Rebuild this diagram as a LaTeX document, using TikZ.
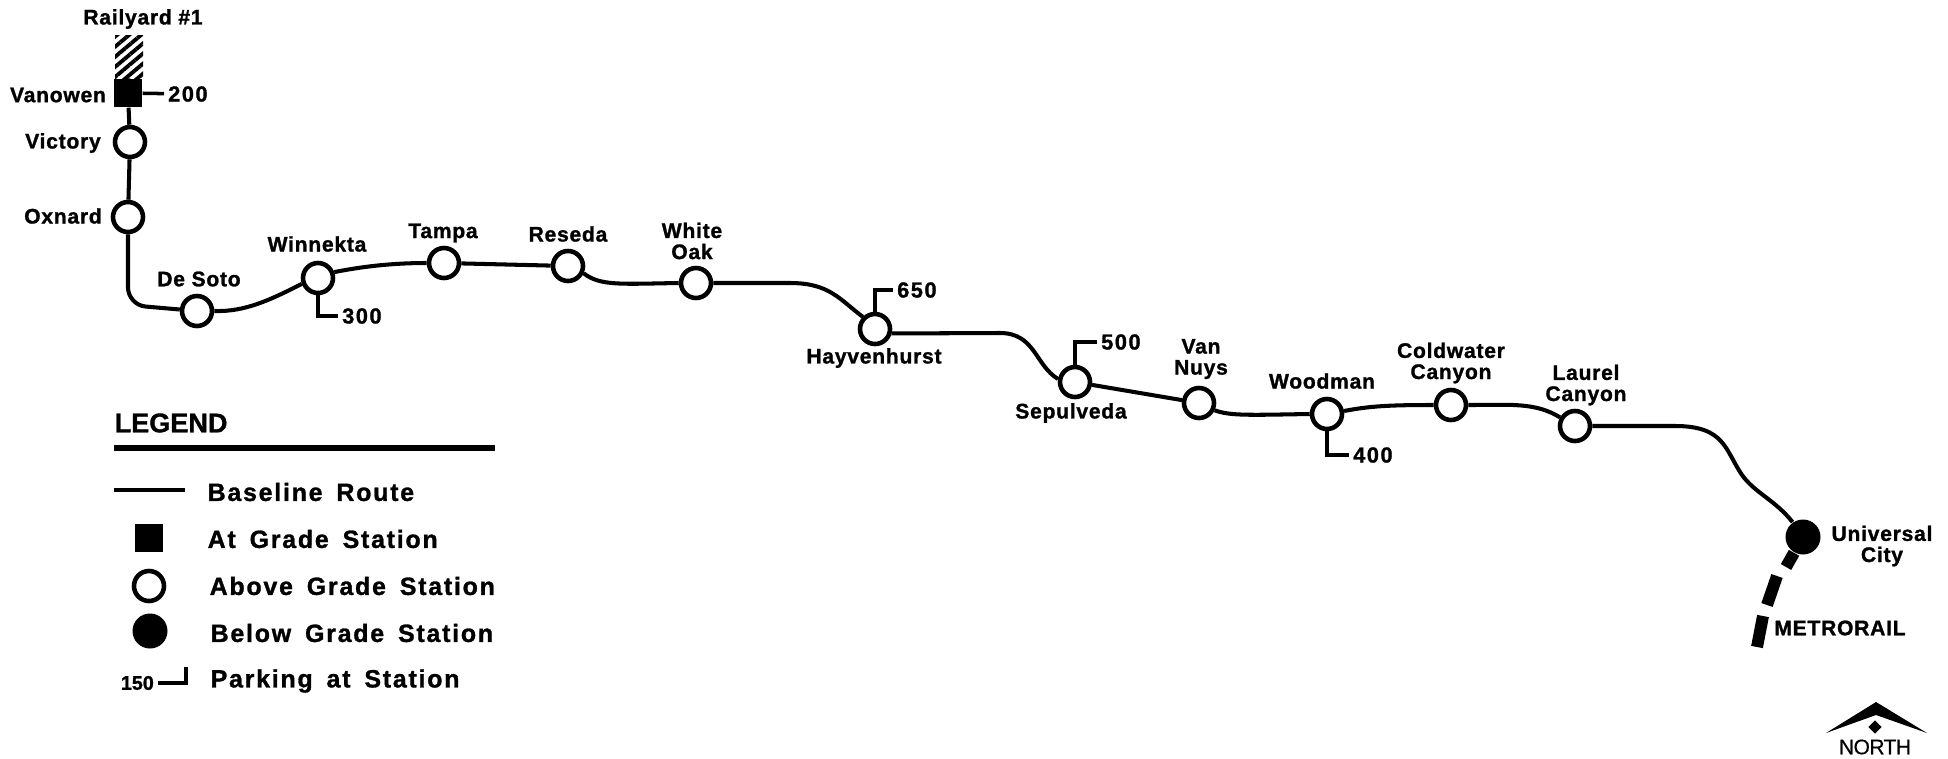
\documentclass[tikz,border=0pt]{standalone}
\usepackage{fontspec}
\setmainfont{Liberation Sans}[BoldFeatures={FakeBold=1.2}]
\newfontfamily\stopfont[LetterSpace=3.5,BoldFeatures={FakeBold=1.2}]{Liberation Sans}
\newfontfamily\keyfont[LetterSpace=7,WordSpace=1.6,BoldFeatures={FakeBold=1.2}]{Liberation Sans}
\newfontfamily\signfont[LetterSpace=-3,FakeBold=0.5]{Liberation Sans}
\usetikzlibrary{patterns.meta,shapes.geometric}

\begin{document}
\begin{tikzpicture}[x=1cm,y=1cm]
\tikzset{
  above grade/.style={circle,draw,line width=1.3pt,fill=white,minimum size=3mm,inner sep=0pt},
  below grade/.style={circle,fill=black,minimum size=3.5mm,inner sep=0pt},
  at grade/.style={rectangle,fill=black,minimum size=2.8mm,inner sep=0pt},
  stoplabel/.style={align=center,inner sep=0pt,font=\stopfont\bfseries\fontsize{6}{6}\selectfont},
  countlabel/.style={anchor=west,inner sep=1pt,font=\keyfont\bfseries\fontsize{6.2}{7}\selectfont},
  keylabel/.style={anchor=west,inner sep=0pt,font=\keyfont\bfseries\fontsize{7.1}{8}\selectfont},
  route/.style={line width=1.15pt},
  leader/.style={line width=1pt},
  metro/.style={line width=3.4pt}
}
\useasboundingbox (0,0) rectangle (19.48,-7.59);
% stations
\node[at grade] (n_Vanowen) at (1.28,-0.93) {};
\node[above grade] (n_Victory) at (1.30,-1.42) {};
\node[above grade] (n_Oxnard) at (1.28,-2.17) {};
\node[above grade] (n_DeSoto) at (1.97,-3.11) {};
\node[above grade] (n_Winnekta) at (3.18,-2.78) {};
\node[above grade] (n_Tampa) at (4.44,-2.63) {};
\node[above grade] (n_Reseda) at (5.68,-2.66) {};
\node[above grade] (n_WhiteOak) at (6.96,-2.83) {};
\node[above grade] (n_Hayvenhurst) at (8.75,-3.29) {};
\node[above grade] (n_Sepulveda) at (10.75,-3.82) {};
\node[above grade] (n_VanNuys) at (11.99,-4.03) {};
\node[above grade] (n_Woodman) at (13.27,-4.14) {};
\node[above grade] (n_Coldwater) at (14.51,-4.05) {};
\node[above grade] (n_Laurel) at (15.75,-4.26) {};
\node[below grade] (n_Universal) at (18.03,-5.37) {};
\node[rectangle,pattern={Lines[angle=40,distance=2.2pt,line width=1.1pt]},minimum width=2.8mm,minimum height=4.5mm,inner sep=0pt] (n_Railyard) at (1.29,-0.58) {};
% station names
\node[stoplabel] (l_Railyard) at (1.43,-0.19) {Railyard \#1};
\node[stoplabel] (l_Vanowen) at (0.58,-0.95) {Vanowen};
\node[stoplabel] (l_Victory) at (0.63,-1.43) {Victory};
\node[stoplabel] (l_Oxnard) at (0.63,-2.16) {Oxnard};
\node[stoplabel] (l_DeSoto) at (1.99,-2.79) {De Soto};
\node[stoplabel] (l_Winnekta) at (3.17,-2.44) {Winnekta};
\node[stoplabel] (l_Tampa) at (4.43,-2.33) {Tampa};
\node[stoplabel] (l_Reseda) at (5.68,-2.34) {Reseda};
\node[stoplabel] (l_WhiteOak) at (6.92,-2.41) {White\\Oak};
\node[stoplabel] (l_Hayvenhurst) at (8.74,-3.58) {Hayvenhurst};
\node[stoplabel] (l_Sepulveda) at (10.71,-4.13) {Sepulveda};
\node[stoplabel] (l_VanNuys) at (12.01,-3.59) {Van\\Nuys};
\node[stoplabel] (l_Woodman) at (13.22,-3.81) {Woodman};
\node[stoplabel] (l_Coldwater) at (14.51,-3.63) {Coldwater\\Canyon};
\node[stoplabel] (l_Laurel) at (15.86,-3.85) {Laurel\\Canyon};
\node[stoplabel] (l_Universal) at (18.82,-5.46) {Universal\\City};
\node[stoplabel] (l_Metrorail) at (18.40,-6.28) {METRORAIL};
% parking counts
\node[countlabel] (p_200) at (1.64,-0.94) {200};
\node[countlabel] (p_300) at (3.38,-3.16) {300};
\node[countlabel] (p_650) at (8.93,-2.90) {650};
\node[countlabel] (p_500) at (10.97,-3.42) {500};
\node[countlabel] (p_400) at (13.49,-4.55) {400};
% route
\draw[route] (n_Railyard) -- (n_Vanowen);
\draw[route] (n_Vanowen) -- (n_Victory);
\draw[route] (n_Victory) -- (n_Oxnard);
\draw[route,rounded corners=5pt] (n_Oxnard) -- (1.28,-3.05) -- (n_DeSoto);
\draw[route] (n_DeSoto.east) .. controls (2.45,-3.12) and (2.70,-3.00) .. (n_Winnekta.200);
\draw[route] (n_Winnekta.20) .. controls (3.60,-2.67) and (3.90,-2.63) .. (n_Tampa.west);
\draw[route] (n_Tampa) -- (n_Reseda);
\draw[route] (n_Reseda.-25) .. controls (6.00,-2.86) and (6.20,-2.84) .. (n_WhiteOak.west);
\draw[route] (n_WhiteOak.east) -- (7.90,-2.83) .. controls (8.30,-2.83) and (8.40,-3.00) .. (n_Hayvenhurst.135);
\draw[route] (n_Hayvenhurst.-15) -- (10.00,-3.33) .. controls (10.35,-3.33) and (10.35,-3.65) .. (n_Sepulveda.170);
\draw[route] (n_Sepulveda) -- (n_VanNuys);
\draw[route] (n_VanNuys.-25) .. controls (12.30,-4.16) and (12.50,-4.15) .. (n_Woodman.west);
\draw[route] (n_Woodman.10) .. controls (13.70,-4.06) and (13.90,-4.05) .. (n_Coldwater.west);
\draw[route] (n_Coldwater.east) .. controls (15.10,-4.05) and (15.35,-4.02) .. (n_Laurel.150);
\draw[route] (n_Laurel.east) -- (16.75,-4.26) .. controls (17.25,-4.26) and (17.25,-4.50) .. (17.42,-4.75) .. controls (17.55,-4.93) and (17.75,-5.00) .. (n_Universal.125);
\draw[metro] (n_Universal) -- (17.86,-5.67);
\draw[metro] (17.77,-5.76) -- (17.67,-6.05);
\draw[metro] (17.63,-6.16) -- (17.57,-6.47);
% parking leaders
\draw[leader] (n_Vanowen) -- (p_200);
\draw[leader] (n_Winnekta) |- (p_300);
\draw[leader] (n_Hayvenhurst) |- (p_650);
\draw[leader] (n_Sepulveda) |- (p_500);
\draw[leader] (n_Woodman) |- (p_400);
% legend
\node[anchor=west,inner sep=0pt,font=\bfseries\fontsize{7.7}{9}\selectfont] (k_Title) at (1.14,-4.23) {LEGEND};
\coordinate (k_RuleL) at (1.14,-4.48);
\coordinate (k_RuleR) at (4.95,-4.48);
\draw[line width=1.7pt] (k_RuleL) -- (k_RuleR);
\coordinate (k_LineL) at (1.14,-4.90);
\coordinate (k_LineR) at (1.85,-4.90);
\draw[route] (k_LineL) -- (k_LineR);
\node[keylabel] (k_Baseline) at (2.07,-4.92) {Baseline Route};
\node[at grade] (k_At) at (1.49,-5.38) {};
\node[keylabel] (k_AtText) at (2.07,-5.39) {At Grade Station};
\node[above grade] (k_Above) at (1.49,-5.86) {};
\node[keylabel] (k_AboveText) at (2.09,-5.86) {Above Grade Station};
\node[below grade] (k_Below) at (1.50,-6.31) {};
\node[keylabel] (k_BelowText) at (2.10,-6.33) {Below Grade Station};
\node[anchor=east,inner sep=1pt,font=\bfseries\fontsize{5.6}{6}\selectfont] (k_150) at (1.58,-6.83) {150};
\coordinate (k_ParkTop) at (1.86,-6.67);
\draw[leader] (k_150) -| (k_ParkTop);
\node[keylabel] (k_ParkText) at (2.10,-6.81) {Parking at Station};
% north sign
\node[diamond,fill=black,minimum size=1.4mm,inner sep=0pt] (n_Mark) at (18.75,-7.27) {};
\node[inner sep=0pt,font=\signfont\fontsize{6}{6}\selectfont] (l_North) at (18.75,-7.47) {NORTH};
\fill (18.26,-7.33) -- (18.76,-7.02) -- (19.27,-7.33) -- (18.76,-7.15) -- cycle;
\end{tikzpicture}
\end{document}
